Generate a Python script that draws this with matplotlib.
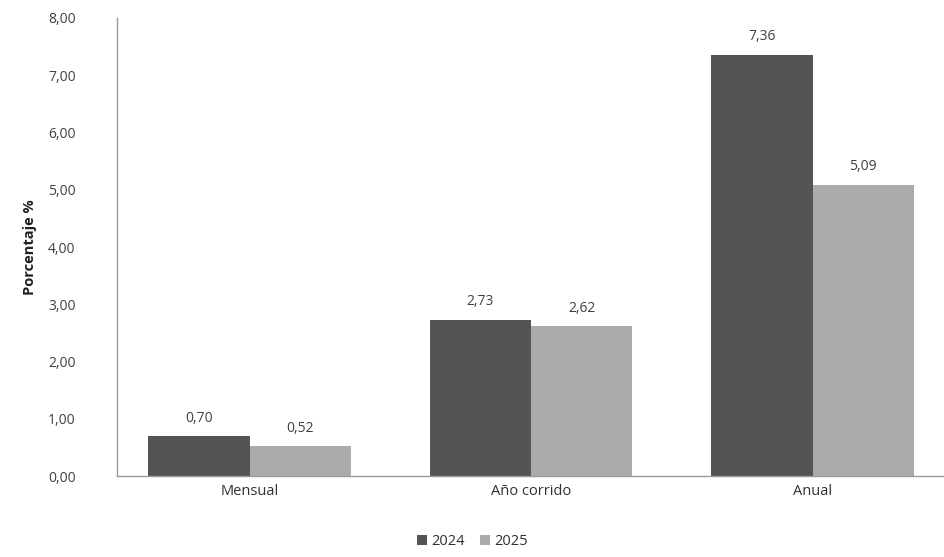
import matplotlib
matplotlib.use("Agg")
import matplotlib.pyplot as plt
import numpy as np

categories = ["Mensual", "Año corrido", "Anual"]
series_names = ["2024", "2025"]
values_2024 = [0.70, 2.73, 7.36]
values_2025 = [0.52, 2.62, 5.09]
yticks = [0, 1, 2, 3, 4, 5, 6, 7, 8]

plt.rcParams['font.family'] = ['Open Sans', 'DejaVu Sans']

fig = plt.figure(figsize=(9.45, 5.57), dpi=100)
ax = fig.add_axes([0.124, 0.1454, 0.876, 0.8223])

x = np.arange(len(categories))
w = 0.36
colors = ["#545454", "#ababab"]
b1 = ax.bar(x - w/2, values_2024, w, color=colors[0], label=series_names[0])
b2 = ax.bar(x + w/2, values_2025, w, color=colors[1], label=series_names[1])

for bars, vals in ((b1, values_2024), (b2, values_2025)):
    for r, v in zip(bars, vals):
        ax.text(r.get_x() + r.get_width()/2, v + 0.18, f"{v:.2f}".replace(".", ","),
                ha="center", va="bottom", fontsize=10, color="#404040")

ax.set_xlim(-0.47, 2.47)
ax.set_ylim(0, 8)
ax.set_yticks(yticks)
ax.set_yticklabels([f"{t:.2f}".replace(".", ",") for t in yticks], fontsize=10, color="#404040")
ax.set_xticks(x)
ax.set_xticklabels(categories, fontsize=10.5, color="#303030")
ax.tick_params(axis="both", length=0)
ax.tick_params(axis="y", pad=30)
ax.tick_params(axis="x", pad=6)
for s in ("top", "right"):
    ax.spines[s].set_visible(False)
for s in ("left", "bottom"):
    ax.spines[s].set_color("#9a9a9a")
    ax.spines[s].set_linewidth(1.0)

ax.set_ylabel("Porcentaje %", fontsize=10.5, fontweight="bold", color="#202020", labelpad=8)

fig.legend(handles=[b1, b2], labels=series_names, loc="lower center", ncol=2,
           bbox_to_anchor=(0.5, -0.01), frameon=False, fontsize=10.5,
           handlelength=0.7, handleheight=0.7, handletextpad=0.3, columnspacing=1.0,
           labelcolor="#303030")

fig.savefig("out.png", dpi=100)
